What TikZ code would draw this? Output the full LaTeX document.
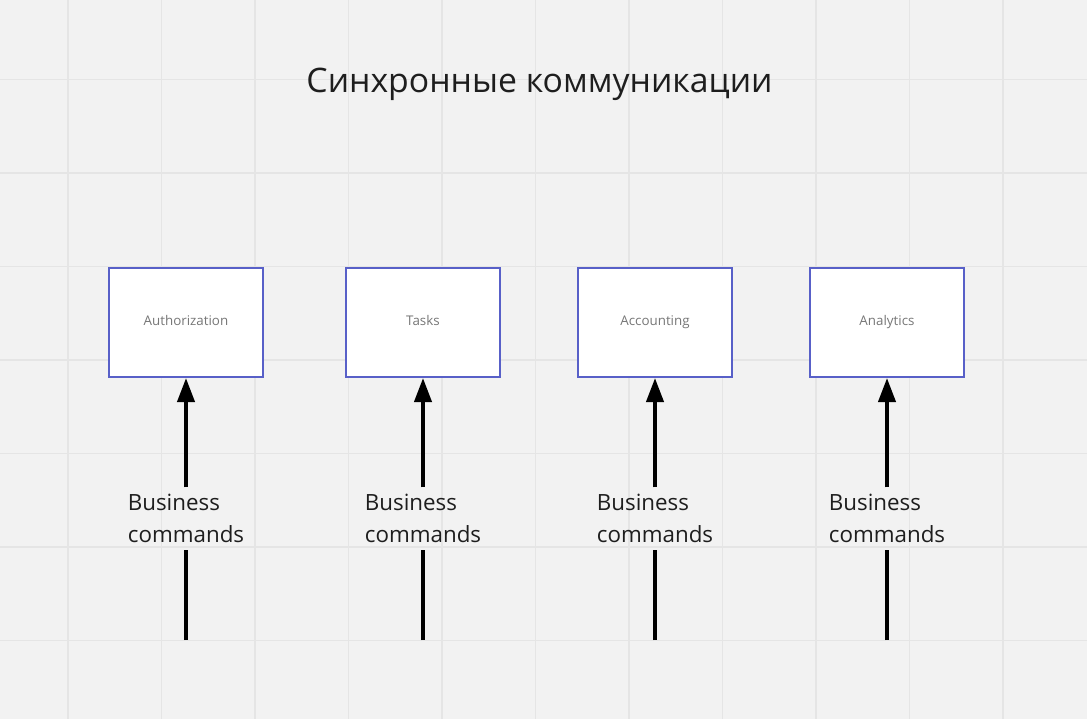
\documentclass[tikz,border=0pt]{standalone}
\usepackage{fontspec}
\setmainfont{Open Sans}
\usetikzlibrary{arrows.meta}
\definecolor{boardbg}{HTML}{F2F2F2}
\definecolor{gridgrey}{HTML}{E5E5E5}
\definecolor{boxblue}{RGB}{88,96,200}
\definecolor{labelgrey}{HTML}{777777}
\definecolor{inkdark}{HTML}{1E1E1E}
\begin{document}
\begin{tikzpicture}[x=0.025cm,y=-0.025cm,
	service/.style={draw=boxblue, line width=1.42pt, fill=white, minimum width=3.85cm, minimum height=2.725cm, inner sep=0pt, text height=7pt, text depth=2.2pt, text=labelgrey, font=\fontsize{9.5}{11}\selectfont},
	cmd/.style={align=left, text=inkdark, inner xsep=0pt, inner ysep=0.1625cm, font=\fontsize{15.9}{22.8}\selectfont},
	flow/.style={line width=2.85pt, draw=black}]

\fill[boardbg] (0,0) rectangle (1087,719);
\useasboundingbox (0,0) rectangle (1087,719);

%grid of the board
\foreach \i in {0,...,10} {%
	\draw [gridgrey, line width=1pt] (68+93.5*\i,0) -- (68+93.5*\i,719);
}
\foreach \j in {0,...,6} {%
	\draw [gridgrey, line width=1pt] (0,79.5+93.5*\j) -- (1087,79.5+93.5*\j);
}

\node[anchor=base, text=inkdark, font=\fontsize{24}{28}\selectfont] (title) at (539.5,92) {Синхронные коммуникации};

\foreach \n/\x/\t in {auth/186/Authorization, tasks/423/Tasks, acc/655/Accounting, ana/887/Analytics} {%
	\node[service] (\n) at (\x,322.5) {\t};
	\node[cmd] (\n-cmd) at (\x,518.5) {Business\\commands};
	\coordinate (\n-end) at (\x,640);
	\draw[flow] (\n-end) -- (\n-cmd);
	\draw[flow, -{Triangle[length=0.6cm, width=0.425cm]}] (\n-cmd) -- (\n);
}

\end{tikzpicture}
\end{document}
